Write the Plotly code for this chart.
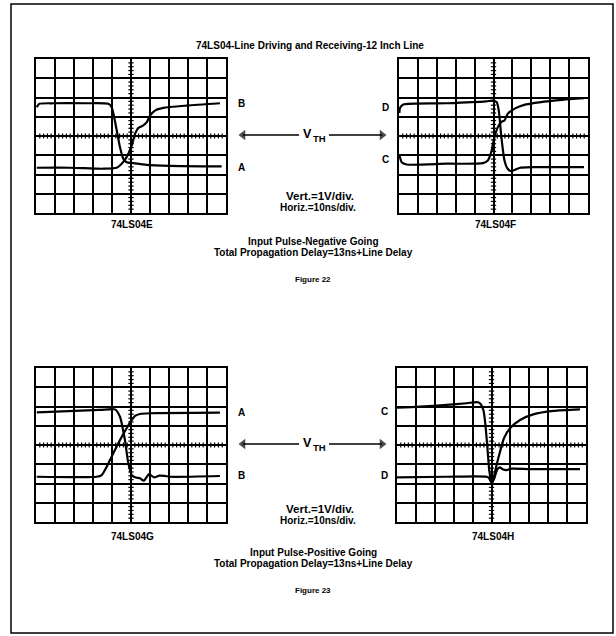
import numpy as np
import plotly.graph_objects as go

W, H = 616, 636

# Oscilloscope traces, time and level both in graticule divisions
# (x: 0..10 div, y: -4..+4 div, 0 = threshold line)

# Figure 22 - 74LS04E
e_a_t = [0.04, 0.18, 0.91, 2.67, 3.81, 3.98, 4.25, 4.42, 4.60, 4.77, 5.12, 5.82, 7.05, 9.77]
e_a_v = [1.50, 1.67, 1.70, 1.70, 1.67, 1.50, 0.29, -0.58, -1.19, -1.36, -1.41, -1.50, -1.55, -1.58]
e_b_t = [0.04, 1.79, 3.54, 4.25, 4.51, 4.77, 5.04, 5.21, 5.39, 5.65, 5.83, 6.00, 6.26, 6.70, 7.93, 9.68]
e_b_v = [-1.65, -1.65, -1.70, -1.65, -1.44, -1.10, -0.49, 0.11, 0.42, 0.55, 0.72, 1.06, 1.32, 1.46, 1.58, 1.70]

# Figure 22 - 74LS04F
f_d_t = [0.02, 0.05, 0.23, 2.51, 4.61, 4.96, 5.17, 5.28, 5.40, 5.58, 5.75, 5.93, 6.37, 7.07, 9.79]
f_d_v = [1.20, 1.45, 1.64, 1.70, 1.80, 1.84, 1.75, 1.32, 0.11, -1.27, -1.70, -1.83, -1.66, -1.62, -1.62]
f_c_t = [0.02, 0.14, 0.40, 2.51, 4.44, 4.70, 4.88, 5.05, 5.23, 5.40, 5.58, 5.75, 6.02, 6.37, 6.72, 7.42, 8.65, 9.79]
f_c_v = [-0.96, -1.36, -1.48, -1.44, -1.41, -1.27, -0.84, -0.06, 0.46, 0.72, 0.81, 1.15, 1.36, 1.53, 1.64, 1.75, 1.88, 1.96]

# Figure 23 - 74LS04G
g_a_t = [0.04, 3.19, 3.46, 3.72, 4.07, 4.42, 4.77, 5.04, 5.21, 5.47, 6.00, 9.68]
g_a_v = [-1.65, -1.65, -1.56, -1.13, -0.43, 0.26, 0.87, 1.30, 1.51, 1.61, 1.65, 1.68]
g_b_t = [0.04, 3.37, 4.16, 4.42, 4.68, 4.86, 5.04, 5.21, 5.47, 5.68, 5.95, 6.21, 6.49, 6.79, 7.05, 9.68]
g_b_v = [1.70, 1.82, 1.85, 1.47, 0.26, -0.95, -1.56, -1.68, -1.73, -1.85, -1.51, -1.68, -1.59, -1.61, -1.65, -1.61]

# Figure 23 - 74LS04H
h_c_t = [0.00, 1.22, 2.63, 3.69, 4.22, 4.39, 4.57, 4.67, 4.78, 4.88, 5.01, 5.13, 5.27, 5.45, 5.66, 5.98, 6.51, 7.21, 8.27, 9.68]
h_c_v = [1.94, 1.99, 2.08, 2.17, 2.23, 2.17, 1.82, 1.13, -0.09, -1.30, -1.96, -1.65, -1.04, -0.35, 0.35, 0.87, 1.30, 1.59, 1.77, 1.85]
h_d_t = [0.00, 2.63, 4.75, 4.88, 5.01, 5.15, 5.31, 5.45, 5.59, 5.80, 6.07, 7.04, 9.68]
h_d_v = [-1.68, -1.65, -1.65, -1.73, -1.99, -1.73, -1.26, -1.16, -1.26, -1.30, -1.23, -1.25, -1.25]

scope_names = ["74LS04E", "74LS04F", "74LS04G", "74LS04H"]
title_text = "74LS04-Line Driving and Receiving-12 Inch Line"
scale_lines = ["Vert.=1V/div.", "Horiz.=10ns/div."]
caption_22 = ["Input Pulse-Negative Going", "Total Propagation Delay=13ns+Line Delay"]
caption_23 = ["Input Pulse-Positive Going", "Total Propagation Delay=13ns+Line Delay"]
figure_names = ["Figure 22", "Figure 23"]

# graticule boxes in page pixels: left, top, right, bottom
boxes = [(36, 59, 226, 213), (399, 59, 588, 213), (36, 368, 226, 522), (397, 368, 586, 522)]

traces = [
    [(e_a_t, e_a_v), (e_b_t, e_b_v)],
    [(f_d_t, f_d_v), (f_c_t, f_c_v)],
    [(g_a_t, g_a_v), (g_b_t, g_b_v)],
    [(h_c_t, h_c_v), (h_d_t, h_d_v)],
]


def px(x):
    return x / W


def py(y):
    return 1 - y / H


fig = go.Figure()
FONT = "Liberation Sans, Arial, sans-serif"

for i, (box, pair) in enumerate(zip(boxes, traces)):
    n = "" if i == 0 else str(i + 1)
    xa, ya = "x" + n, "y" + n
    l, t, r, b = box
    fig.update_layout(**{
        "xaxis" + n: dict(domain=[px(l), px(r)], range=[0, 10], anchor=ya,
                          showgrid=True, gridcolor="black", gridwidth=1.6,
                          dtick=1, tick0=0, showticklabels=False, ticks="",
                          zeroline=False, showline=True, mirror=True,
                          linecolor="black", linewidth=2.4, fixedrange=True),
        "yaxis" + n: dict(domain=[py(b), py(t)], range=[-4, 4], anchor=xa,
                          showgrid=True, gridcolor="black", gridwidth=1.6,
                          dtick=1, tick0=-4, showticklabels=False, ticks="",
                          zeroline=False, showline=True, mirror=True,
                          linecolor="black", linewidth=2.4, fixedrange=True),
    })

    # minor graduations on the two centre lines (5 per division)
    tx, ty = [], []
    for k in np.arange(0.2, 10.0, 0.2):
        tx += [k, k, None]
        ty += [-0.13, 0.13, None]
    for k in np.arange(-3.8, 4.0, 0.2):
        tx += [4.86, 5.14, None]
        ty += [k, k, None]
    fig.add_trace(go.Scatter(x=tx, y=ty, mode="lines", xaxis=xa, yaxis=ya,
                             line=dict(color="black", width=1.2),
                             hoverinfo="skip"))

    for t_vals, v_vals in pair:
        fig.add_trace(go.Scatter(x=t_vals, y=v_vals, mode="lines", xaxis=xa, yaxis=ya,
                                 line=dict(color="black", width=2.2, shape="spline", smoothing=0.6),
                                 hoverinfo="skip"))

# page-wide overlay axes (pixel units) for the threshold arrows
fig.update_layout(
    xaxis5=dict(domain=[0, 1], range=[0, W], visible=False, anchor="y5", fixedrange=True),
    yaxis5=dict(domain=[0, 1], range=[H, 0], visible=False, anchor="x5", fixedrange=True),
)

ann = []


def text(x, y, s, size=10, anchor="center"):
    ann.append(dict(x=px(x), y=py(y), xref="paper", yref="paper", text="<b>" + s + "</b>",
                    showarrow=False, xanchor=anchor, yanchor="middle",
                    font=dict(family=FONT, size=size, color="black")))


text(310, 46, title_text)

# trace labels
text(241, 103, "B")
text(241, 167, "A")
text(385, 107, "D")
text(385, 159, "C")
text(241, 412, "A")
text(241, 476, "B")
text(384, 411, "C")
text(384, 476, "D")

# scope captions
text(132, 225, scope_names[0])
text(495, 225, scope_names[1])
text(132, 536, scope_names[2])
text(493, 536, scope_names[3])

for dy, caption, fname, yv in [(0, caption_22, figure_names[0], 135),
                               (311, caption_23, figure_names[1], 444)]:
    text(320, 196 + dy + (2 if dy else 0), scale_lines[0], size=11.5)
    text(318, 207 + dy + (2 if dy else 0), scale_lines[1])
    text(313, 241 + dy, caption[0])
    text(313, 252 + dy, caption[1])
    text(313, 279 + dy, fname, size=8)

    # threshold marker: V with TH subscript, arrows to both graticules
    text(307, yv - 1, "V", size=12.5)
    text(319, yv + 3, "TH", size=9.5)
    for x0, x1, sym in [(299, 243, "triangle-left"), (329, 382, "triangle-right")]:
        fig.add_trace(go.Scatter(x=[x0, x1], y=[yv, yv], mode="lines+markers",
                                 xaxis="x5", yaxis="y5",
                                 line=dict(color="black", width=1.5),
                                 marker=dict(symbol=["circle", sym], size=[0, 9],
                                             color="black", line=dict(width=0)),
                                 hoverinfo="skip"))

fig.update_layout(
    width=W, height=H, margin=dict(l=0, r=0, t=0, b=0),
    paper_bgcolor="white", plot_bgcolor="rgba(0,0,0,0)", showlegend=False,
    annotations=ann,
    shapes=[dict(type="rect", xref="paper", yref="paper",
                 x0=px(11), x1=px(613), y0=py(633), y1=py(4),
                 line=dict(color="black", width=1.5))],
)

fig.write_html("out.html")
